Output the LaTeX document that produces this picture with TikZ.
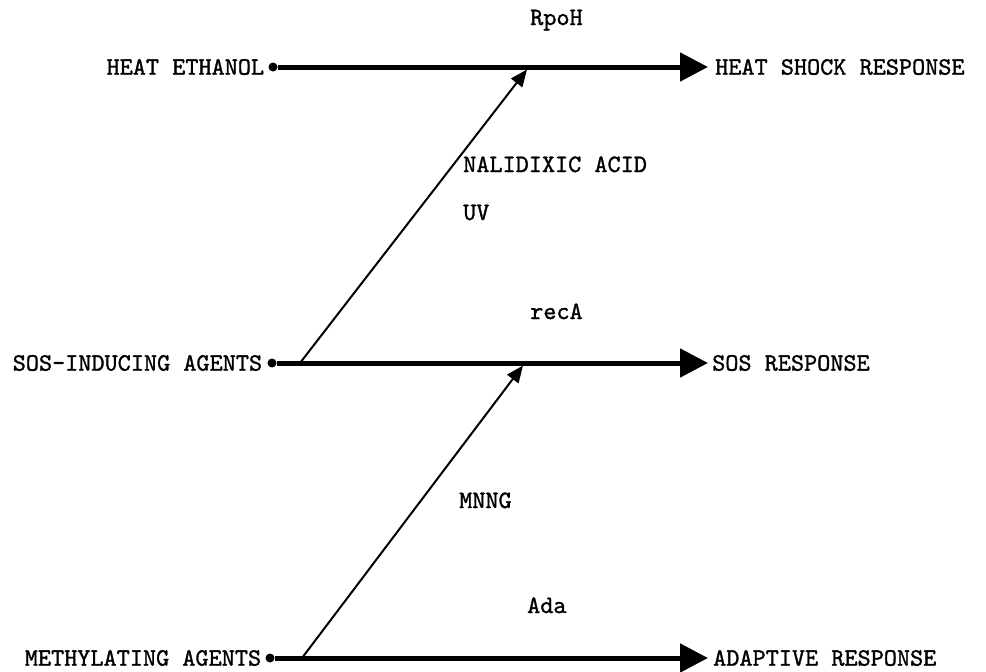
\documentclass[tikz,border=0pt]{standalone}
\usepackage{fontspec}
\newfontfamily\typewriter{lmmono10-regular.otf}[FakeBold=1.2]
\usetikzlibrary{positioning, arrows.meta}
\tikzstyle{txt}=[%
      font=\typewriter\fontsize{25}{30}\selectfont, inner sep=0pt
]
\tikzstyle{src}=[%
      circle, fill=black, inner sep=0pt, minimum size=9pt
]
\tikzstyle{main}=[%
      line width=5pt, -{Triangle[length=28pt,width=28pt]}
]
\tikzstyle{induce}=[%
      line width=2pt, -{Triangle[length=17pt,width=14pt]}
]

\begin{document}
\begin{tikzpicture}[x=1pt, y=-1pt]
    \useasboundingbox (0,0) rectangle (986,672);

    \node[src]        (heat) at (273,67)  {};
    \node[src]        (sos)  at (272,363) {};
    \node[src]        (meth) at (270,658) {};
    \coordinate       (hsr)  at (708,67);
    \coordinate       (sr)   at (708,363);
    \coordinate       (ar)   at (708,658);
    \coordinate  (sosfork)   at (300,363);
    \coordinate  (methfork)  at (302,658);
    \coordinate  (rpohjoin)  at (527,69.5);
    \coordinate  (recajoin)  at (523,365.5);

    \node[txt, left = 4pt of heat] (heatlbl) {HEAT ETHANOL};
    \node[txt, left = 5pt of sos]  (soslbl)  {SOS-INDUCING AGENTS};
    \node[txt, left = 4pt of meth] (methlbl) {METHYLATING AGENTS};
    \node[txt, right = 7pt of hsr] (hsrlbl)  {HEAT SHOCK RESPONSE};
    \node[txt, right = 4pt of sr]  (srlbl)   {SOS RESPONSE};
    \node[txt, right = 5pt of ar]  (arlbl)   {ADAPTIVE RESPONSE};

    \node[txt, anchor=base west] (rpoh) at (530,25)  {RpoH};
    \node[txt, anchor=base west] (nal)  at (463,172) {NALIDIXIC ACID};
    \node[txt, anchor=base west] (uv)   at (463,220) {UV};
    \node[txt, anchor=base west] (reca) at (530,319) {recA};
    \node[txt, anchor=base west] (mnng) at (459,508) {MNNG};
    \node[txt, anchor=base west] (ada)  at (527,613) {Ada};

    \path (heat)     edge[main]   (hsr)
          (sos)      edge[main]   (sr)
          (meth)     edge[main]   (ar)
          (sosfork)  edge[induce] (rpohjoin)
          (methfork) edge[induce] (recajoin)
    ;

\end{tikzpicture}
\end{document}
